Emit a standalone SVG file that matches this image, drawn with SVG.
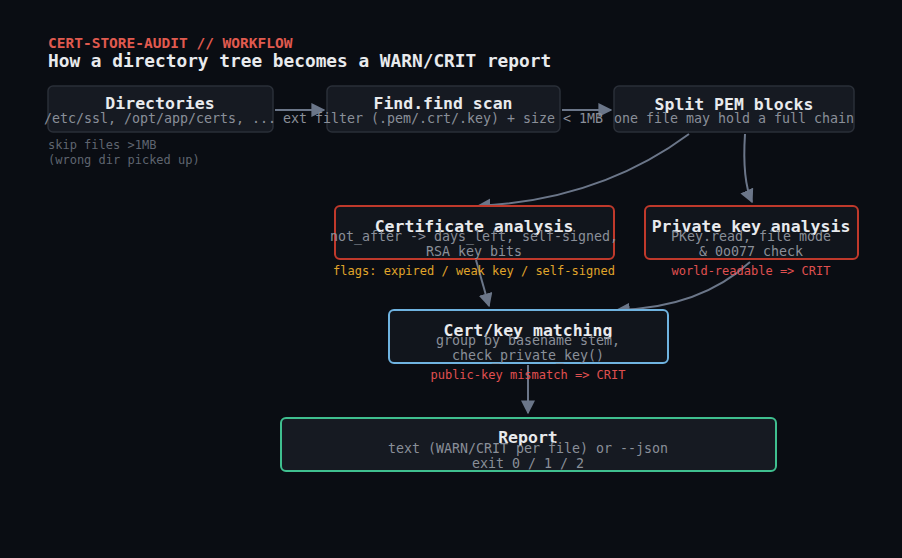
<svg xmlns="http://www.w3.org/2000/svg" width="902" height="558" viewBox="0 0 902 558">
<defs>
<marker id="ah" viewBox="0 0 10 10" refX="9" refY="5" markerWidth="7" markerHeight="7" orient="auto"><path d="M0,0 L10,5 L0,10 z" fill="#6b7689"/></marker>
<style>
text{font-family:"DejaVu Sans Mono","Liberation Mono",monospace}
.t{font-size:16.5px;font-weight:bold;fill:#e8eaed;text-anchor:middle}
.s{font-size:13.3px;fill:#8a8f99;text-anchor:middle}
.n{fill:#161a22;stroke:#2a2f38;stroke-width:1.5}
.c{fill:none;stroke:#6b7689;stroke-width:2;marker-end:url(#ah)}
.a{font-size:12px}
</style>
</defs>
<rect width="902" height="558" fill="#0a0d13"/>
<text x="48" y="48" font-size="14.5" font-weight="bold" fill="#e05a4f">CERT-STORE-AUDIT // WORKFLOW</text>
<text x="48" y="67" font-size="17.8" font-weight="bold" fill="#e8eaed">How a directory tree becomes a WARN/CRIT report</text>
<g id="connectors">
<path class="c" d="M275,110 L324,110"/>
<path class="c" d="M562,110 L611,110"/>
<path class="c" d="M689,134 Q600,200 478,206"/>
<path class="c" d="M745,134 Q742,180 752,202"/>
<path class="c" d="M476,260 L489,306"/>
<path class="c" d="M750,262 Q700,308 617,310"/>
<path class="c" d="M528,365 L528,413"/>
</g>
<g id="directories"><rect class="n" x="48" y="86" width="225" height="46" rx="5"/><text class="t" x="160" y="109">Directories</text><text class="s" x="160" y="123">/etc/ssl, /opt/app/certs, ...</text>
<text class="a" x="48" y="149" fill="#5f6570">skip files &gt;1MB</text><text class="a" x="48" y="164" fill="#5f6570">(wrong dir picked up)</text></g>
<g id="find"><rect class="n" x="327" y="86" width="233" height="46" rx="5"/><text class="t" x="443" y="109">Find.find scan</text><text class="s" x="443" y="123">ext filter (.pem/.crt/.key) + size &lt; 1MB</text></g>
<g id="split"><rect class="n" x="614" y="86" width="240" height="46" rx="5"/><text class="t" x="734" y="110">Split PEM blocks</text><text class="s" x="734" y="123">one file may hold a full chain</text></g>
<g id="cert"><rect x="335" y="206" width="279" height="53" rx="5" fill="#11151c" stroke="#c0392b" stroke-width="2"/><text class="t" x="474" y="232">Certificate analysis</text><text class="s" x="474" y="241">not_after -&gt; days_left, self-signed,</text><text class="s" x="474" y="256">RSA key bits</text>
<text class="a" x="474" y="275" fill="#e0a52a" text-anchor="middle">flags: expired / weak key / self-signed</text></g>
<g id="pkey"><rect x="645" y="206" width="213" height="53" rx="5" fill="#11151c" stroke="#c0392b" stroke-width="2"/><text class="t" x="751" y="232">Private key analysis</text><text class="s" x="751" y="241">PKey.read, file mode</text><text class="s" x="751" y="256">&amp; 0o077 check</text>
<text class="a" x="751" y="275" fill="#e05050" text-anchor="middle">world-readable =&gt; CRIT</text></g>
<g id="match"><rect x="389" y="310" width="279" height="53" rx="5" fill="#11151c" stroke="#6fb3e0" stroke-width="2"/><text class="t" x="528" y="336">Cert/key matching</text><text class="s" x="528" y="345">group by basename stem,</text><text class="s" x="528" y="360">check_private_key()</text>
<text class="a" x="528" y="379" fill="#e05050" text-anchor="middle">public-key mismatch =&gt; CRIT</text></g>
<g id="report"><rect x="281" y="418" width="495" height="53" rx="5" fill="#161a22" stroke="#3fbf8f" stroke-width="2"/><text class="t" x="528" y="443">Report</text><text class="s" x="528" y="453">text (WARN/CRIT per file) or --json</text><text class="s" x="528" y="468">exit 0 / 1 / 2</text></g>
</svg>
